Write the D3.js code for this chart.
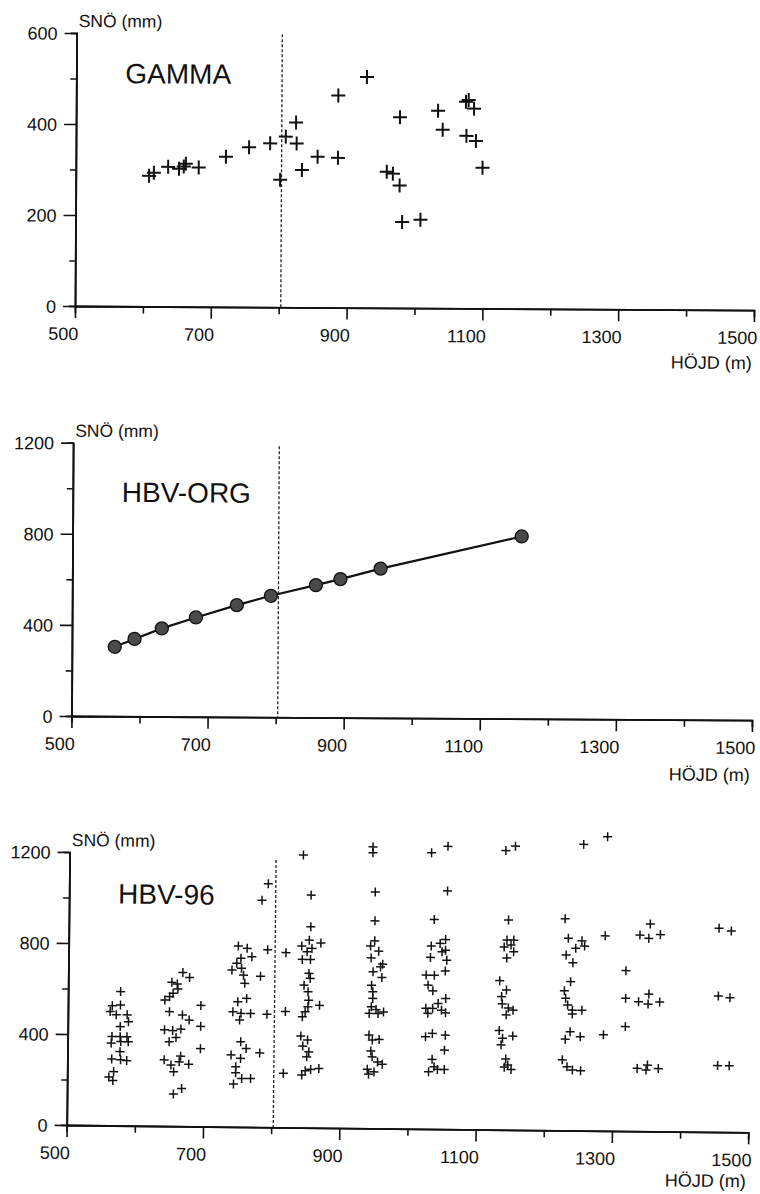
<!DOCTYPE html>
<html>
<head>
<meta charset="utf-8">
<script src="https://cdn.jsdelivr.net/npm/d3@7"></script>
<style>
  body { margin: 0; background: #fff; }
  svg { display: block; }
  text { font-family: "Liberation Sans", Arial, Helvetica, sans-serif; fill: #111; }
</style>
</head>
<body>
<svg id="chart" width="760" height="1194"></svg>
<script>
// ---- data ----
var xMajor = [500, 700, 900, 1100, 1300, 1500];
var xMinor = [600, 800, 1000, 1200, 1400];
var limitHeight = 803; // dashed line

// GAMMA: height (m), snow (mm)
var gammaHeight = [608, 615, 636, 652, 659, 662, 681, 721, 755, 786, 801, 809, 824, 825, 833, 856, 886, 886, 928,
                   977, 958, 967, 977, 981, 1008, 1033, 1040, 1074, 1078, 1086, 1075, 1089, 1099];
var gammaSnow   = [287, 294, 307, 303, 308, 314, 306, 330, 351, 360, 280, 375, 406, 360, 302, 331, 466, 329, 507,
                   419, 299, 295, 269, 189, 194, 434, 392, 454, 458, 439, 379, 368, 309];

// HBV-ORG
var orgHeight = [563, 592, 632, 682, 742, 792, 858, 894, 953, 1160];
var orgSnow   = [305, 340, 387, 436, 491, 533, 581, 608, 655, 800];

// HBV-96
var hbvHeight = [
  577, 565, 577, 562, 571, 587, 589, 577, 565, 577, 587, 564, 578, 589, 577, 565, 578, 587, 568, 561, 567,
  668, 678, 652, 660, 661, 654, 649, 642, 695, 649, 668, 678, 695, 642, 654, 666, 649, 659, 695, 642, 652, 664, 666, 678, 656, 656, 668,
  792, 783, 749, 762, 792, 753, 769, 747, 740, 754, 757, 782, 759, 749, 762, 742, 754, 768, 792, 752, 754, 762, 782, 740, 754, 747, 747, 756, 769, 744,
  843, 855, 855, 870, 853, 842, 857, 850, 843, 855, 819, 853, 855, 846, 852, 853, 869, 852, 848, 844, 819, 842, 852, 845, 854, 851, 817, 844, 849, 857, 869,
  945, 945, 949, 949, 949, 943, 955, 944, 961, 958, 947, 960, 945, 947, 947, 945, 952, 963, 942, 955, 942, 947, 957, 945, 947, 955, 962, 940, 950, 942,
  1055, 1031, 1055, 1036, 1053, 1045, 1032, 1053, 1048, 1031, 1055, 1025, 1037, 1053, 1028, 1035, 1054, 1043, 1025, 1035, 1048, 1054, 1028, 1025, 1035, 1054, 1053, 1035, 1030, 1043, 1053, 1038,
  1140, 1154, 1145, 1143, 1153, 1139, 1149, 1153, 1143, 1133, 1143, 1136, 1137, 1146, 1153, 1143, 1133, 1153, 1138, 1136, 1143, 1141, 1146, 1151,
  1254, 1228, 1233, 1253, 1244, 1257, 1230, 1240, 1237, 1228, 1230, 1233, 1240, 1254, 1240, 1237, 1230, 1252, 1226, 1233, 1241, 1253,
  1289, 1287, 1286,
  1318, 1318, 1318, 1353, 1338, 1351, 1368, 1352, 1337, 1351, 1368, 1336, 1351, 1349, 1367,
  1454, 1472, 1454, 1471, 1454, 1471
];
var hbvSnow = [
  589, 526, 530, 501, 487, 487, 457, 435, 391, 391, 391, 362, 369, 369, 325, 292, 289, 286, 237, 213, 198,
  676, 654, 632, 625, 603, 584, 569, 554, 532, 503, 489, 467, 440, 423, 420, 427, 371, 390, 342, 291, 269, 283, 308, 273, 239, 141, 166,
  1070, 997, 795, 785, 780, 741, 748, 719, 689, 697, 667, 663, 631, 550, 565, 506, 499, 499, 496, 470, 374, 345, 326, 316, 301, 264, 238, 213, 213, 188,
  1198, 1022, 883, 812, 824, 798, 788, 773, 739, 739, 768, 678, 656, 626, 597, 560, 538, 531, 509, 487, 509, 402, 385, 358, 333, 311, 238, 231, 250, 256, 260,
  1237, 1211, 1039, 912, 824, 801, 779, 749, 722, 710, 688, 663, 629, 600, 571, 534, 522, 512, 505, 505, 410, 388, 391, 340, 314, 292, 282, 259, 248, 238,
  1243, 1214, 1047, 921, 833, 816, 804, 786, 779, 754, 742, 676, 676, 695, 632, 607, 574, 552, 530, 530, 522, 511, 508, 405, 420, 413, 347, 306, 251, 262, 262, 273,
  1227, 1247, 922, 834, 834, 803, 812, 783, 755, 655, 614, 585, 553, 535, 526, 505, 436, 412, 402, 373, 311, 275, 285, 265,
  1258, 930, 845, 834, 801, 811, 771, 737, 654, 614, 581, 551, 529, 529, 512, 434, 401, 412, 310, 280, 266, 263,
  1293, 857, 422,
  705, 584, 459, 911, 862, 848, 865, 603, 569, 559, 569, 276, 291, 269, 276,
  896, 884, 598, 591, 292, 292
];

var panels = [
  { title: "GAMMA", ox: 75, oy: 306, w: 679, h: 273, rot: 0.34, yMax: 600,
    yMajor: [0, 200, 400, 600], yMinor: [100, 300, 500], dashTop: 600,
    titleDy: 50, xTitleDy: 59, mark: "bigcross", hx: gammaHeight, sy: gammaSnow },
  { title: "HBV-ORG", ox: 71.5, oy: 716, w: 680.5, h: 273.3, rot: 0.34, yMax: 1200,
    yMajor: [0, 400, 800, 1200], yMinor: [200, 600, 1000], dashTop: 1190,
    titleDy: 59, xTitleDy: 61, mark: "line", hx: orgHeight, sy: orgSnow },
  { title: "HBV-96", ox: 66.7, oy: 1125, w: 681.6, h: 273, rot: 0.62, yMax: 1200,
    yMajor: [0, 400, 800, 1200], yMinor: [200, 600, 1000], dashTop: 1175,
    titleDy: 51, xTitleDy: 55, mark: "smallcross", hx: hbvHeight, sy: hbvSnow }
];

var svg = d3.select("#chart");
var fmt = d3.format("d");

panels.forEach(function(p) {
  var g = svg.append("g")
    .attr("transform", "translate(" + p.ox + "," + p.oy + ") rotate(" + p.rot + ")");

  var x = d3.scaleLinear().domain([500, 1500]).range([0, p.w]);
  var y = d3.scaleLinear().domain([0, p.yMax]).range([0, -p.h]);

  // x axis, minor then major ticks
  g.append("g").call(d3.axisBottom(x).tickValues(xMinor).tickSize(7).tickFormat(""))
    .call(styleAxis);
  var xa = g.append("g").call(d3.axisBottom(x).tickValues(xMajor).tickSize(12).tickSizeOuter(0).tickFormat(fmt))
    .call(styleAxis);
  xa.selectAll("text")
    .attr("text-anchor", "end")
    .attr("x", 3)
    .attr("y", 34)
    .attr("dy", null);

  // y axis
  g.append("g").call(d3.axisLeft(y).tickValues(p.yMinor).tickSize(6).tickFormat(""))
    .call(styleAxis);
  var ya = g.append("g").call(d3.axisLeft(y).tickValues(p.yMajor).tickSize(12).tickPadding(7).tickSizeOuter(0).tickFormat(fmt))
    .call(styleAxis);
  ya.selectAll("text").attr("dy", "0.35em");

  // axis titles
  g.append("text").attr("x", 2).attr("y", y(p.yMax) - 6)
    .style("font-size", "17.5px").text("SNÖ (mm)");
  g.append("text").attr("x", x(1500) - 2).attr("y", p.xTitleDy)
    .attr("text-anchor", "end")
    .style("font-size", "18px").text("HÖJD (m)");

  // panel title
  g.append("text").attr("x", 49).attr("y", y(p.yMax) + p.titleDy)
    .style("font-size", "28px").text(p.title);

  // dashed line
  g.append("line")
    .attr("x1", x(limitHeight)).attr("x2", x(limitHeight))
    .attr("y1", y(p.dashTop)).attr("y2", y(0))
    .attr("stroke", "#222")
    .attr("stroke-width", 1.3)
    .attr("stroke-dasharray", "3,2");

  var pts = p.hx.map(function(v, i) { return [v, p.sy[i]]; });

  if (p.mark === "line") {
    var line = d3.line().x(function(d) { return x(d[0]); }).y(function(d) { return y(d[1]); });
    g.append("path").attr("d", line(pts))
      .attr("fill", "none").attr("stroke", "#111").attr("stroke-width", 2.2);
    g.selectAll("circle.pt").data(pts).enter().append("circle")
      .attr("class", "pt")
      .attr("cx", function(d) { return x(d[0]); })
      .attr("cy", function(d) { return y(d[1]); })
      .attr("r", 6.5)
      .attr("fill", "#4a4a4a")
      .attr("stroke", "#111")
      .attr("stroke-width", 1.3);
  } else {
    var s = p.mark === "bigcross" ? 7 : 4.5;
    var sw = p.mark === "bigcross" ? 2 : 1.5;
    g.selectAll("path.pt").data(pts).enter().append("path")
      .attr("class", "pt")
      .attr("d", function(d) {
        var cx = x(d[0]), cy = y(d[1]);
        return "M" + (cx - s) + "," + cy + "h" + (2 * s) + "M" + cx + "," + (cy - s) + "v" + (2 * s);
      })
      .attr("stroke", "#111")
      .attr("stroke-width", sw)
      .attr("fill", "none");
  }
});

function styleAxis(sel) {
  sel.select(".domain").attr("stroke", "#111").attr("stroke-width", 1.8);
  sel.selectAll(".tick line").attr("stroke", "#111").attr("stroke-width", 1.6);
  sel.selectAll("text").style("font-size", "18px").style("font-family", "Liberation Sans, Arial, sans-serif").attr("fill", "#111");
}
</script>
</body>
</html>
